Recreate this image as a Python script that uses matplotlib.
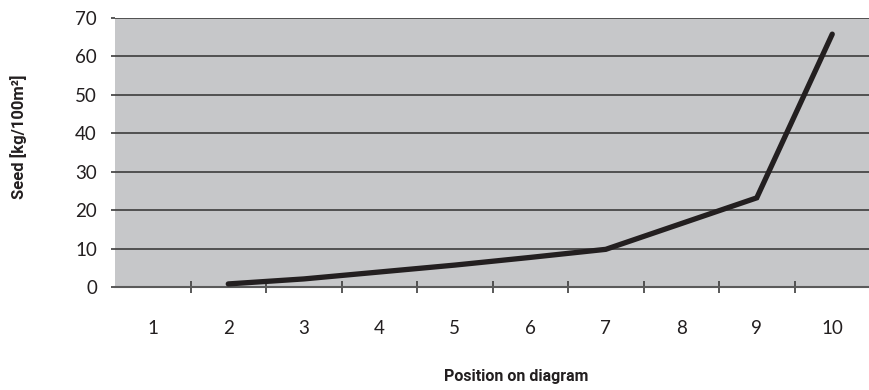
import matplotlib
matplotlib.use("Agg")
import matplotlib.pyplot as plt
import numpy as np

categories = ["1", "2", "3", "4", "5", "6", "7", "8", "9", "10"]
seed = [np.nan, 0.8, 2.1, 3.9, 5.7, 7.7, 9.8, 16.5, 23.2, 65.8]
yticks = [0, 10, 20, 30, 40, 50, 60, 70]

W, H = 869, 390
fig = plt.figure(figsize=(W / 100, H / 100), dpi=100)
ax = fig.add_axes([115 / W, 1 - 287 / H, 755 / W, 269 / H])
ax.set_facecolor("#c6c7c9")

x = np.arange(1, len(categories) + 1)
ax.plot(x, seed, color="#231f20", lw=3.8, solid_capstyle="round",
        solid_joinstyle="miter", zorder=3)

ax.set_xlim(0.5, len(categories) + 0.5)
ax.set_ylim(0, 70)
ax.set_yticks(yticks)
ax.set_yticklabels([str(v) for v in yticks])
ax.yaxis.grid(True, color="#3c3c3c", lw=1.2)
ax.set_axisbelow(True)

# boundaries between categories as major ticks, labels as minor ticks
ax.set_xticks(np.arange(1.5, len(categories), 1.0))
ax.set_xticklabels([])
ax.set_xticks(x, minor=True)
ax.set_xticklabels(categories, minor=True)
ax.tick_params(axis="x", which="major", direction="inout", length=8,
               width=1.2, color="#3c3c3c")
ax.tick_params(axis="x", which="minor", length=0, pad=24,
               labelsize=13.5, labelcolor="#231f20")
ax.tick_params(axis="y", which="major", direction="out", length=3,
               width=1.2, color="#3c3c3c", pad=10, labelsize=13.5,
               labelcolor="#231f20")
for lab in ax.get_xticklabels(minor=True) + ax.get_yticklabels():
    lab.set_family("Lato")

for s in ["left", "right", "top"]:
    ax.spines[s].set_visible(False)
ax.spines["bottom"].set_color("#5a5a5a")
ax.spines["bottom"].set_linewidth(1.5)

fig.text(19 / W, 1 - 137 / H, "Seed [kg/100m²]", rotation=90, ha="center",
         va="center", fontsize=12, fontweight="bold", family="Roboto",
         color="#231f20")
fig.text(516 / W, 1 - 376 / H, "Position on diagram", ha="center",
         va="center", fontsize=11.5, fontweight="bold", family="Roboto",
         color="#231f20")

fig.savefig("out.png", dpi=100)
